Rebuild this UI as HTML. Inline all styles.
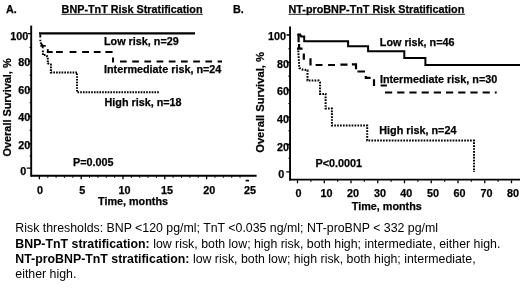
<!DOCTYPE html>
<html><head><meta charset="utf-8">
<style>
html,body{margin:0;padding:0;background:#fff;}
body{width:520px;height:298px;position:relative;overflow:hidden;font-family:"Liberation Sans",sans-serif;color:#000;}
.t{position:absolute;white-space:nowrap;font-weight:bold;font-size:10.8px;line-height:12px;-webkit-text-stroke:0.25px #000;}
.c{position:absolute;white-space:nowrap;font-size:12.35px;line-height:15.3px;left:15.3px;}
.r{text-align:right;}
.m{text-align:center;}
svg{position:absolute;left:0;top:0;}
#tx{position:absolute;left:0;top:0;width:520px;height:298px;will-change:transform;}
</style></head><body>
<svg width="520" height="298" viewBox="0 0 520 298" fill="none" stroke="#000">
<!-- Chart A axes -->
<path d="M31.2 25.6V176.6" stroke-width="1.9"/>
<path d="M30.7 175.8H256.6" stroke-width="1.9"/>
<g stroke-width="1.3">
<path d="M28 33.6h3M28 61.2h3M28 89.2h3M28 116.5h3M28 143.8h3M26.8 168.1h4.5"/>
<path d="M39.4 176v3.3M81.2 176v3.3M123 176v3.3M164.8 176v3.3M206.6 176v3.3"/><path d="M245.6 180.6H249" stroke-width="1.7"/>
</g>
<g stroke-width="1.1"><path d="M47.76 176.3v1.5M56.12 176.3v1.5M64.48 176.3v1.5M72.84 176.3v1.5M89.56 176.3v1.5M97.92 176.3v1.5M106.28 176.3v1.5M114.64 176.3v1.5M131.36 176.3v1.5M139.72 176.3v1.5M148.08 176.3v1.5M156.44 176.3v1.5M173.16 176.3v1.5M181.52 176.3v1.5M189.88 176.3v1.5M198.24 176.3v1.5M214.96 176.3v1.5M223.32 176.3v1.5M231.68 176.3v1.5M240.04 176.3v1.5"/><path d="M29.6 47.4h1.6M29.6 75.2h1.6M29.6 102.8h1.6M29.6 130.2h1.6M29.6 156.0h1.6"/><path d="M288.4 48.7h1.6M288.4 76.1h1.6M288.4 103.5h1.6M288.4 130.8h1.6M288.4 158.2h1.6"/></g>
<!-- A curves -->
<path d="M39 33.4H195" stroke-width="2.1"/>
<g stroke-width="1.9">
<path d="M40.3 34.5V37.6M40.3 39.8V41.2M40.4 42.5L43 46.2M40.4 45.9H45.7M42.7 46.5V48.3"/>
<path d="M47.8 49.2V52.9"/>
<path d="M46.9 52H112.6" stroke-dasharray="5.8 3.3 6.8 6.8 6.8 5.8 6.8 4.8 6.8 4.8 7.2 9"/>
<path d="M113 57.5V62.4"/>
<path d="M120 61.5H222" stroke-dasharray="6.7 5.5"/>
</g>
<path d="M42.9 50.6V55.1H46L47.8 56.9V63.4L50.9 64.5V72.4H77V92.3H159" stroke-width="2" stroke-dasharray="1.65 1.1"/>
<!-- Chart B axes -->
<path d="M290.05 26.6V180.5" stroke-width="1.9"/>
<path d="M289.3 179.6H520" stroke-width="1.9"/>
<g stroke-width="1.3">
<path d="M286.5 35h3.5M286.5 62.4h3.5M286.5 89.8h3.5M286.5 117.1h3.5M286.5 144.5h3.5M286.3 171.9h3.7"/>
<path d="M297.50 180.3v3M324.25 180.3v3M351.00 180.3v3M377.75 180.3v3M404.50 180.3v3M431.25 180.3v3M458.00 180.3v3M484.75 180.3v3M511.50 180.3v3"/>
<path d="M310.88 180.3v1.4M337.62 180.3v1.4M364.38 180.3v1.4M391.12 180.3v1.4M417.88 180.3v1.4M444.62 180.3v1.4M471.38 180.3v1.4M498.12 180.3v1.4"/>
</g>
<!-- B curves -->
<path d="M297.3 34.6H300.2L301.2 36.6H304.2V41.2H348.1V46.25H368.1V51.25H404.3V57.9H425.4V65.1H520" stroke-width="2" stroke-linejoin="miter"/>
<g stroke-width="2.2">
<path d="M298.6 34V42.2M299.1 44V48.6M297 48.6H302.6M303.8 53.4V59.7M310.5 58.3V65.6"/>
<path d="M315.6 65H322.5M328.1 65H335M340.4 64.6H347.5M351.9 64.4H356V69.25M357.5 71.5H365M365.8 76V77.8H370.6M374 79.25V86.1M380.6 85.5H386.9"/>
<path d="M385 92.5H496.7" stroke-dasharray="7.2 5"/>
</g>
<path d="M298.3 50.5L299.3 68L302.5 69.6L307.5 70.2V80.5H318.8L320 82.5V93.9H325.6V108.5H331.9V125.5H367.2V140.5H474V172" stroke-width="2" stroke-dasharray="1.7 1.2"/>
<!-- underlines -->
<path d="M61.5 14.35H202.8M288.5 14.35H465" stroke-width="0.95" stroke="#222"/>
</svg>
<div id="tx">
<div class="t" style="left:6px;top:3px;">A.</div>
<div class="t" style="left:61.6px;top:3px;">BNP-TnT Risk Stratification</div>
<div class="t" style="left:233px;top:3px;">B.</div>
<div class="t" style="left:288.5px;top:3px;">NT-proBNP-TnT Risk Stratification</div>

<div class="t r" style="left:0;width:28.2px;top:29.6px;">100</div>
<div class="t r" style="left:0;width:30.2px;top:56.3px;">80</div>
<div class="t r" style="left:0;width:30.2px;top:84.1px;">60</div>
<div class="t r" style="left:0;width:30.2px;top:111.3px;">40</div>
<div class="t r" style="left:0;width:30.2px;top:138.6px;">20</div>
<div class="t r" style="left:0;width:26.2px;top:165.1px;">0</div>

<div class="t m" style="left:30px;width:20px;top:184px;">0</div>
<div class="t m" style="left:72.3px;width:20px;top:184px;">5</div>
<div class="t m" style="left:114.6px;width:20px;top:184px;">10</div>
<div class="t m" style="left:157px;width:20px;top:184px;">15</div>
<div class="t m" style="left:199.3px;width:20px;top:184px;">20</div>
<div class="t m" style="left:240px;width:20px;top:184px;">25</div>
<div class="t" style="left:98px;top:195.3px;">Time, months</div>

<div class="t" style="left:104px;top:35.3px;">Low risk, n=29</div>
<div class="t" style="left:104px;top:63.4px;">Intermediate risk, n=24</div>
<div class="t" style="left:104.5px;top:96px;">High risk, n=18</div>
<div class="t" style="left:73.1px;top:155.6px;">P=0.005</div>
<div class="t" style="left:0;top:0;transform-origin:0 0;font-size:10.9px;transform:translate(0.8px,156.5px) rotate(-90deg);">Overall Survival, %</div>

<div class="t r" style="left:260px;width:26px;top:30.25px;">100</div>
<div class="t r" style="left:260px;width:29.1px;top:57.85px;">80</div>
<div class="t r" style="left:260px;width:29.1px;top:85.35px;">60</div>
<div class="t r" style="left:260px;width:29.1px;top:112.85px;">40</div>
<div class="t r" style="left:260px;width:29.1px;top:140.9px;">20</div>
<div class="t r" style="left:260px;width:24.2px;top:167.5px;">0</div>

<div class="t m" style="left:288.6px;width:20px;top:187.3px;">0</div>
<div class="t m" style="left:316.5px;width:20px;top:187.3px;">10</div>
<div class="t m" style="left:342.9px;width:20px;top:187.3px;">20</div>
<div class="t m" style="left:369.9px;width:20px;top:187.3px;">30</div>
<div class="t m" style="left:396.3px;width:20px;top:187.3px;">40</div>
<div class="t m" style="left:423.0px;width:20px;top:187.3px;">50</div>
<div class="t m" style="left:449.6px;width:20px;top:187.3px;">60</div>
<div class="t m" style="left:476.5px;width:20px;top:187.3px;">70</div>
<div class="t m" style="left:503.0px;width:20px;top:187.3px;">80</div>
<div class="t" style="left:351.8px;top:199.6px;">Time, months</div>

<div class="t" style="left:379.8px;top:35.5px;">Low risk, n=46</div>
<div class="t" style="left:379.9px;top:72.5px;">Intermediate risk, n=30</div>
<div class="t" style="left:379.3px;top:123.7px;">High risk, n=24</div>
<div class="t" style="left:315.5px;top:156.5px;">P&lt;0.0001</div>
<div class="t" style="left:0;top:0;transform-origin:0 0;font-size:11.2px;transform:translate(254.1px,152.8px) rotate(-90deg);">Overall Survival, %</div>

<div class="c" style="top:221.4px;">Risk thresholds: BNP &lt;120 pg/ml; TnT &lt;0.035 ng/ml; NT-proBNP &lt; 332 pg/ml</div>
<div class="c" style="top:236.7px;"><b>BNP-TnT stratification:</b> low risk, both low; high risk, both high; intermediate, either high.</div>
<div class="c" style="top:252px;"><b>NT-proBNP-TnT stratification:</b> low risk, both low; high risk, both high; intermediate,</div>
<div class="c" style="top:267.3px;">either high.</div>
</div>
</body></html>
